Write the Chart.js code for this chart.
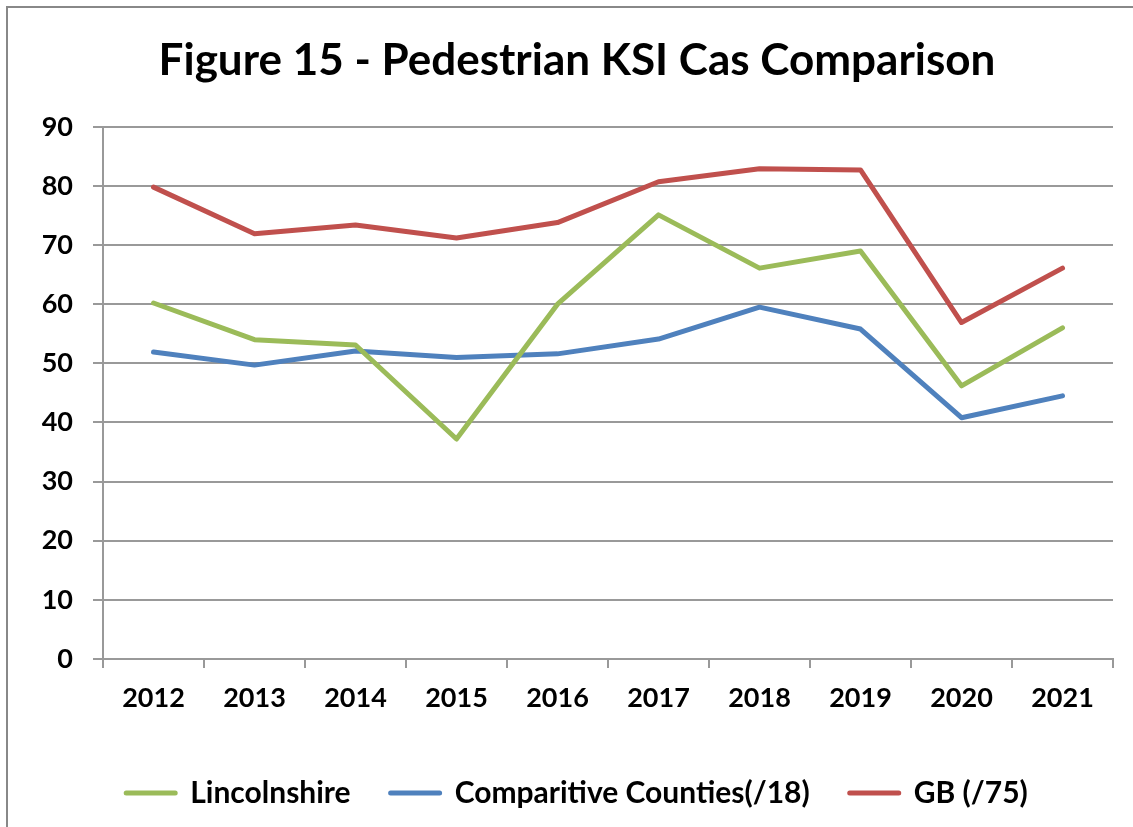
<!DOCTYPE html>
<html>
<head>
<meta charset="utf-8">
<script src="https://cdn.jsdelivr.net/npm/chart.js@4/dist/chart.umd.min.js"></script>
<style>
  body { margin: 0; background: #fff; }
  #wrap { width: 1133px; height: 827px; }
</style>
</head>
<body>
<div id="wrap"><canvas id="ksi-chart"></canvas></div>
<script>
const years = ['2012', '2013', '2014', '2015', '2016', '2017', '2018', '2019', '2020', '2021'];
const lincolnshire = [60.2, 54, 53.1, 37.2, 60, 75.1, 66.1, 69, 46.2, 56];
const comparitive = [51.9, 49.7, 52.1, 51, 51.6, 54.1, 59.5, 55.8, 40.8, 44.5];
const gb = [79.8, 71.9, 73.4, 71.2, 73.8, 80.7, 82.9, 82.7, 56.9, 66.1];
const yTicks = [0, 10, 20, 30, 40, 50, 60, 70, 80, 90];

const frame = {
    id: 'frame',
    beforeDraw(chart) {
        const ctx = chart.ctx;
        ctx.save();
        ctx.fillStyle = '#fff';
        ctx.fillRect(0, 0, chart.width, chart.height);
        ctx.strokeStyle = '#888';
        ctx.lineWidth = 2;
        ctx.strokeRect(7, 7, 1300, 1000);
        ctx.restore();
    }
};

function series(label, data, color) {
    return {
        label: label,
        data: data,
        borderColor: color,
        backgroundColor: color,
        borderWidth: 5,
        borderCapStyle: 'round',
        borderJoinStyle: 'round',
        pointRadius: 0,
        tension: 0
    };
}

const tickFont = { family: 'Lato', size: 27, weight: 'bold' };
const legendFont = { family: 'Lato', size: 30, weight: 'bold' };

new Chart(document.getElementById('ksi-chart').getContext('2d'), {
    type: 'line',
    data: {
        labels: years,
        datasets: [
            series('Lincolnshire', lincolnshire, '#9BBB59'),
            series('Comparitive Counties(/18)', comparitive, '#4F81BD'),
            series('GB (/75)', gb, '#C0504D')
        ]
    },
    options: {
        responsive: true,
        maintainAspectRatio: false,
        animation: false,
        // left padding balances the title and legend the way the original sits
        layout: { padding: { top: 0, left: 41, right: 20, bottom: 9 } },
        plugins: {
            title: {
                display: true,
                text: 'Figure 15 - Pedestrian KSI Cas Comparison',
                color: '#000',
                font: { family: 'Lato', size: 44, weight: 'bold' },
                padding: { top: 34, bottom: 40 }
            },
            legend: {
                position: 'bottom',
                labels: {
                    color: '#000',
                    font: legendFont,
                    boxWidth: 49,
                    boxHeight: 0,
                    padding: 40
                }
            },
            tooltip: { enabled: false }
        },
        scales: {
            x: {
                offset: true,
                grid: {
                    offset: true,
                    drawOnChartArea: false,
                    drawTicks: true,
                    tickLength: 9,
                    color: '#999',
                    lineWidth: 2
                },
                border: { display: true, color: '#999', width: 2 },
                ticks: { color: '#000', font: tickFont, padding: 14, maxRotation: 0 },
                afterFit(scale) { scale.height = 79; }
            },
            y: {
                min: 0,
                max: 90,
                afterBuildTicks(scale) { scale.ticks = yTicks.map(v => ({ value: v })); },
                grid: { color: '#999', lineWidth: 2, tickLength: 10 },
                border: { display: true, color: '#999', width: 2 },
                ticks: { color: '#000', font: tickFont, padding: 20 },
                afterFit(scale) { scale.width = 62; }
            }
        }
    },
    plugins: [frame]
});
</script>
</body>
</html>
